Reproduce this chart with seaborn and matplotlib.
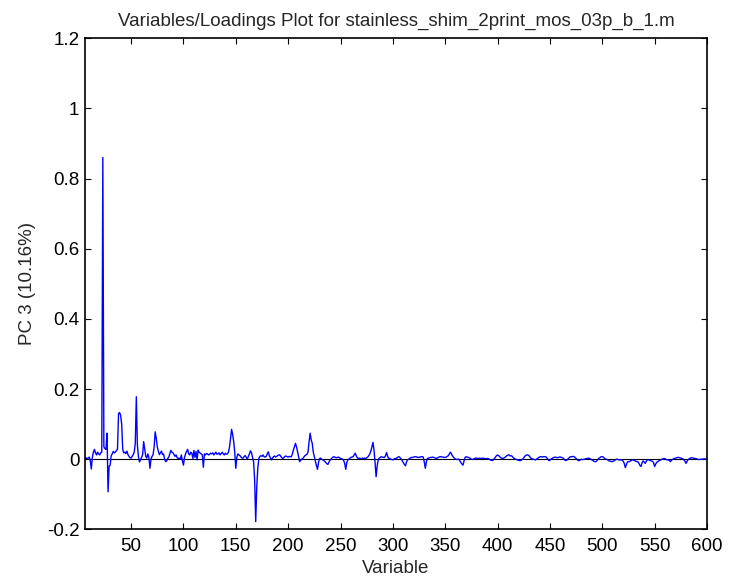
import numpy as np
import pandas as pd
import matplotlib
matplotlib.use("Agg")
import matplotlib.pyplot as plt
import seaborn as sns

# PC 3 loadings for variables 6..600 (one row per ten variables)
first_variable = 6
loadings = [
    0.002, 0.004, 0.001, 0.003, 0.006, -0.004, -0.028, 0.005, 0.020, 0.028,
    0.018, 0.012, 0.020, 0.015, 0.012, 0.018, 0.020, 0.860, 0.035, 0.030,
    0.028, 0.074, -0.093, -0.020, -0.017, 0.010, 0.015, 0.022, 0.018, 0.020,
    0.025, 0.028, 0.130, 0.133, 0.125, 0.100, 0.028, 0.018, 0.020, 0.016,
    0.023, 0.013, 0.008, 0.004, 0.003, 0.008, 0.013, 0.020, 0.045, 0.178,
    0.040, 0.008, -0.008, -0.002, 0.005, 0.013, 0.050, 0.030, 0.008, 0.003,
    0.015, 0.005, -0.026, 0.000, 0.008, 0.013, 0.035, 0.078, 0.060, 0.035,
    0.023, 0.013, 0.018, 0.023, 0.013, 0.015, 0.000, -0.007, -0.005, 0.002,
    0.006, 0.015, 0.025, 0.020, 0.018, 0.013, 0.008, 0.012, 0.004, 0.002,
    0.003, 0.000, 0.012, -0.005, -0.017, 0.005, 0.015, 0.022, 0.028, 0.015,
    0.012, 0.020, 0.017, 0.002, 0.025, 0.005, 0.022, -0.002, 0.026, 0.020,
    0.017, 0.015, 0.012, -0.023, 0.015, 0.012, 0.016, 0.015, 0.012, 0.014,
    0.017, 0.015, 0.018, 0.012, 0.016, 0.020, 0.014, 0.015, 0.018, 0.012,
    0.016, 0.020, 0.015, 0.012, 0.017, 0.014, 0.015, 0.020, 0.035, 0.060,
    0.085, 0.070, 0.050, 0.020, -0.026, 0.005, 0.015, 0.012, 0.010, 0.006,
    0.003, 0.003, 0.008, 0.010, 0.005, 0.000, 0.008, 0.015, 0.024, 0.018,
    0.005, -0.008, -0.060, -0.178, -0.080, -0.026, 0.002, 0.008, 0.010, 0.008,
    0.012, 0.007, 0.006, 0.008, 0.015, 0.021, 0.010, 0.004, -0.002, 0.003,
    0.007, 0.009, 0.006, 0.008, 0.010, 0.012, 0.012, 0.008, 0.004, 0.002,
    0.005, 0.008, 0.009, 0.007, 0.006, 0.008, 0.007, 0.007, 0.015, 0.026,
    0.035, 0.045, 0.035, 0.021, 0.008, -0.007, -0.003, 0.000, 0.002, 0.006,
    0.010, 0.012, 0.014, 0.021, 0.050, 0.074, 0.055, 0.045, 0.020, 0.007,
    -0.005, -0.018, -0.029, -0.010, 0.002, 0.003, 0.000, -0.002, -0.004, -0.006,
    -0.010, -0.013, -0.015, -0.008, -0.003, 0.000, 0.004, 0.006, 0.007, 0.005,
    0.004, 0.005, 0.006, 0.004, 0.002, 0.001, 0.000, -0.004, -0.012, -0.029,
    -0.010, -0.002, 0.000, 0.003, 0.005, 0.006, 0.007, 0.012, 0.017, 0.010,
    0.004, 0.002, 0.003, 0.002, 0.001, 0.003, 0.002, 0.003, 0.002, 0.004,
    0.006, 0.010, 0.015, 0.024, 0.035, 0.048, 0.026, -0.010, -0.050, -0.020,
    -0.002, 0.003, 0.005, 0.007, 0.006, 0.005, 0.005, 0.010, 0.019, 0.008,
    0.002, 0.002, 0.000, -0.001, -0.002, 0.000, 0.002, 0.002, 0.004, 0.006,
    0.007, 0.004, 0.000, -0.005, -0.010, -0.015, -0.019, -0.008, -0.002, 0.000,
    0.002, 0.004, 0.005, 0.005, 0.006, 0.007, 0.007, 0.006, 0.005, 0.005,
    0.006, 0.007, 0.007, 0.006, -0.008, -0.026, -0.008, 0.002, 0.003, 0.004,
    0.005, 0.005, 0.006, 0.005, 0.004, 0.002, 0.003, 0.004, 0.006, 0.007,
    0.007, 0.006, 0.006, 0.005, 0.005, 0.006, 0.008, 0.010, 0.015, 0.020,
    0.015, 0.009, 0.005, 0.002, 0.000, -0.001, 0.000, 0.000, -0.005, -0.010,
    -0.014, -0.017, -0.005, 0.005, 0.007, 0.006, 0.005, 0.004, 0.002, 0.000,
    -0.001, 0.000, 0.002, 0.003, 0.003, 0.002, 0.002, 0.003, 0.002, 0.002,
    0.003, 0.002, 0.002, 0.001, 0.002, 0.002, 0.000, -0.002, -0.003, -0.004,
    -0.002, 0.002, 0.006, 0.010, 0.012, 0.010, 0.007, 0.004, 0.003, 0.002,
    0.003, 0.005, 0.008, 0.010, 0.012, 0.012, 0.009, 0.010, 0.008, 0.004,
    0.002, 0.000, -0.001, -0.002, -0.003, -0.004, -0.004, -0.002, 0.000, 0.004,
    0.008, 0.011, 0.012, 0.012, 0.010, 0.006, 0.002, 0.001, 0.000, -0.001,
    -0.002, -0.001, 0.002, 0.004, 0.006, 0.007, 0.007, 0.006, 0.007, 0.007,
    0.007, 0.004, 0.000, -0.004, -0.003, 0.000, 0.002, 0.004, 0.005, 0.006,
    0.005, 0.004, 0.005, 0.006, 0.006, 0.005, 0.004, 0.002, -0.002, -0.004,
    -0.003, 0.000, 0.003, 0.006, 0.007, 0.007, 0.008, 0.007, 0.005, 0.002,
    -0.001, -0.004, -0.004, -0.002, 0.000, -0.001, -0.001, 0.000, 0.001, 0.002,
    0.002, 0.003, 0.002, 0.000, -0.002, -0.004, -0.006, -0.007, -0.007, -0.004,
    0.000, 0.003, 0.005, 0.007, 0.007, 0.006, 0.003, 0.000, 0.000, -0.002,
    -0.004, -0.005, -0.006, -0.007, -0.007, -0.005, -0.003, -0.001, 0.000, -0.001,
    -0.002, -0.002, -0.002, -0.003, -0.006, -0.012, -0.024, -0.016, -0.008, -0.007,
    -0.007, -0.005, -0.003, -0.002, -0.003, -0.004, -0.006, -0.007, -0.007, -0.012,
    -0.018, -0.021, -0.010, -0.005, -0.008, -0.012, -0.006, -0.002, -0.001, -0.003,
    -0.004, -0.005, -0.006, -0.010, -0.021, -0.014, -0.009, -0.007, -0.005, -0.003,
    -0.002, 0.000, 0.001, 0.002, 0.001, -0.001, -0.002, -0.002, -0.003, -0.007,
    -0.004, -0.001, 0.001, 0.002, 0.003, 0.004, 0.005, 0.005, 0.004, 0.003,
    0.002, 0.001, -0.002, -0.006, -0.012, -0.006, -0.001, 0.001, 0.003, 0.004,
    0.004, 0.003, 0.002, 0.002, 0.001, 0.000, -0.001, -0.001, 0.000, 0.000,
    0.000, 0.001, 0.001, 0.000, 0.001,
]

x_ticks = [50, 100, 150, 200, 250, 300, 350, 400, 450, 500, 550, 600]
y_ticks = [-0.2, 0, 0.2, 0.4, 0.6, 0.8, 1, 1.2]
y_tick_labels = ["-0.2", "0", "0.2", "0.4", "0.6", "0.8", "1", "1.2"]

title_text = "Variables/Loadings Plot for stainless_shim_2print_mos_03p_b_1.m"
x_label = "Variable"
y_label = "PC 3 (10.16%)"

df = pd.DataFrame({
    "variable": np.arange(first_variable, first_variable + len(loadings)),
    "loading": loadings,
})

sns.set_theme(style="white")
plt.rcParams["font.family"] = ["Liberation Sans", "DejaVu Sans"]
fs = 13.5

fig = plt.figure(figsize=(7.33, 5.79), dpi=100)
ax = fig.add_axes([0.116, 0.0858, 0.8485, 0.8481])

ax.axhline(0, color="black", lw=0.8, zorder=1)
sns.lineplot(data=df, x="variable", y="loading", color="#0000ff",
             lw=1.0, ax=ax, zorder=2)

ax.set_xlim(6, 600)
ax.set_ylim(-0.2, 1.2)
ax.set_xticks(x_ticks)
ax.set_xticklabels([str(t) for t in x_ticks])
ax.set_yticks(y_ticks)
ax.set_yticklabels(y_tick_labels)

ax.tick_params(direction="in", length=4, width=0.8, top=True, right=True,
               bottom=True, left=True, labelsize=fs, colors="black")
ax.tick_params(axis="x", pad=6.5)
ax.tick_params(axis="y", pad=4)
for s in ax.spines.values():
    s.set_color("black")
    s.set_linewidth(1.2)

ax.set_title(title_text, fontsize=fs, pad=9)
ax.set_xlabel(x_label, fontsize=fs, labelpad=3)
ax.set_ylabel(y_label, fontsize=fs, labelpad=8)

fig.savefig("out.png", dpi=100)
